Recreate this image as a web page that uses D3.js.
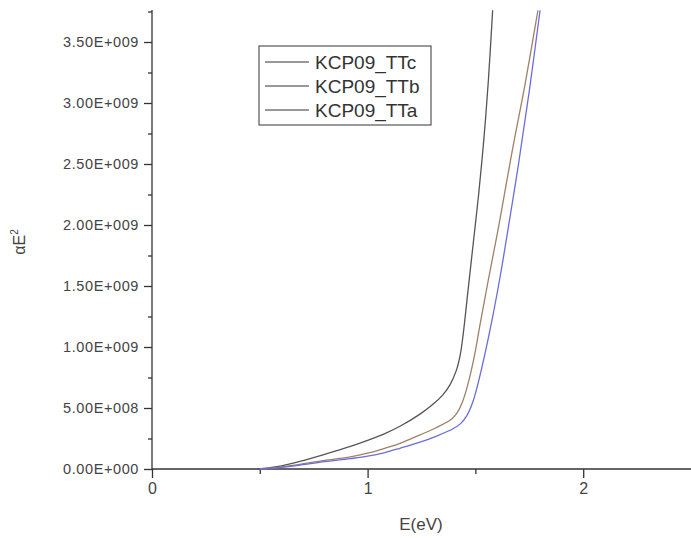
<!DOCTYPE html>
<html>
<head>
<meta charset="utf-8">
<script src="https://cdn.jsdelivr.net/npm/d3@7"></script>
<style>
  body { margin: 0; background: #fff; }
  svg { display: block; font-family: "Liberation Sans", Arial, sans-serif; }
</style>
</head>
<body>
<svg width="691" height="538"></svg>
<script>
const width = 691;
const height = 538;

// series: photon energy (eV) and alpha*E^2 (units of 1e9)
const eTTc = [0.49, 0.58, 0.69, 0.8, 0.92, 1.0, 1.08, 1.15, 1.243, 1.303, 1.35, 1.382, 1.41, 1.429, 1.443, 1.465, 1.49, 1.515, 1.54, 1.56, 1.58];
const vTTc = [0, 0.02, 0.065, 0.12, 0.185, 0.235, 0.29, 0.35, 0.45, 0.53, 0.61, 0.69, 0.8, 0.93, 1.1, 1.45, 1.85, 2.25, 2.72, 3.18, 3.76];

const eTTb = [0.5, 0.58, 0.69, 0.8, 0.92, 1.0, 1.08, 1.15, 1.243, 1.32, 1.39, 1.415, 1.44, 1.466, 1.498, 1.521, 1.56, 1.605, 1.67, 1.73, 1.79];
const vTTb = [0, 0.012, 0.04, 0.07, 0.1, 0.13, 0.17, 0.21, 0.28, 0.34, 0.41, 0.46, 0.55, 0.7, 0.95, 1.18, 1.55, 1.96, 2.6, 3.15, 3.76];

const eTTa = [0.5, 0.58, 0.69, 0.8, 0.92, 1.0, 1.08, 1.15, 1.243, 1.32, 1.396, 1.43, 1.461, 1.49, 1.512, 1.545, 1.577, 1.615, 1.65, 1.70, 1.75, 1.80];
const vTTa = [0, 0.01, 0.033, 0.06, 0.085, 0.105, 0.135, 0.17, 0.22, 0.27, 0.33, 0.37, 0.44, 0.56, 0.7, 0.95, 1.22, 1.58, 1.95, 2.5, 3.1, 3.76];

const seriesNames = ["KCP09_TTc", "KCP09_TTb", "KCP09_TTa"];
const xTickValues = [0, 1, 2];
const xMinorValues = [0.5, 1.5];
const yTickValues = [0, 0.5, 1.0, 1.5, 2.0, 2.5, 3.0, 3.5];
const yTickLabels = ["0.00E+000", "5.00E+008", "1.00E+009", "1.50E+009", "2.00E+009", "2.50E+009", "3.00E+009", "3.50E+009"];
const yMinorValues = [0.25, 0.75, 1.25, 1.75, 2.25, 2.75, 3.25, 3.75];

const colors = ["#555555", "#a08068", "#6c6cd8"];

const svg = d3.select("svg");

const x = d3.scaleLinear().domain([0, 2.5]).range([152, 691]);
const y = d3.scaleLinear().domain([0, 3.5]).range([469, 42]);
const yTop = 10;

// axes
const xAxis = svg.append("g")
    .attr("transform", `translate(0, ${y(0)})`)
    .call(d3.axisBottom(x).tickValues(xTickValues).tickSize(9).tickPadding(5).tickFormat(d3.format("d")));
xAxis.select(".domain").attr("d", `M${x(0)},0H${width}`);

svg.append("g")
    .attr("transform", `translate(0, ${y(0)})`)
    .call(d3.axisBottom(x).tickValues(xMinorValues).tickSize(5).tickFormat(""))
    .call((g) => g.select(".domain").remove());

const yAxis = svg.append("g")
    .attr("transform", `translate(${x(0)}, 0)`)
    .call(d3.axisLeft(y).tickValues(yTickValues).tickSize(8).tickPadding(5)
        .tickFormat((d, i) => yTickLabels[i]));
yAxis.select(".domain").attr("d", `M0,${y(0)}V${yTop}`);

svg.append("g")
    .attr("transform", `translate(${x(0)}, 0)`)
    .call(d3.axisLeft(y).tickValues(yMinorValues.filter((v) => y(v) > yTop)).tickSize(4).tickFormat(""))
    .call((g) => g.select(".domain").remove());

svg.selectAll(".domain, .tick line").attr("stroke", "#333").attr("stroke-width", 1.3);
xAxis.selectAll("text").attr("font-size", 16).attr("fill", "#444");
yAxis.selectAll("text").attr("font-size", 14.5).attr("fill", "#444").attr("letter-spacing", "0.6px");

// axis titles
svg.append("text")
    .attr("x", 421)
    .attr("y", 530)
    .attr("text-anchor", "middle")
    .attr("font-size", 17)
    .attr("fill", "#444")
    .text("E(eV)");

const yTitle = svg.append("text")
    .attr("transform", "translate(25, 242) rotate(-90)")
    .attr("text-anchor", "middle")
    .attr("font-size", 16)
    .attr("fill", "#444");
yTitle.append("tspan").text("αE");
yTitle.append("tspan").attr("font-size", 10).attr("dy", -7).text("2");

// curves
const line = d3.line()
    .x((d) => x(d[0]))
    .y((d) => y(d[1]))
    .curve(d3.curveCatmullRom.alpha(0.5));

const series = [
    d3.zip(eTTc, vTTc),
    d3.zip(eTTb, vTTb),
    d3.zip(eTTa, vTTa),
];

svg.append("g")
    .selectAll("path")
    .data(series)
    .join("path")
    .attr("fill", "none")
    .attr("stroke", (_d, i) => colors[i])
    .attr("stroke-width", 1.3)
    .attr("d", line);

// legend
const legend = svg.append("g").attr("transform", "translate(259, 46)");
legend.append("rect")
    .attr("width", 172)
    .attr("height", 79)
    .attr("fill", "#fff")
    .attr("stroke", "#555")
    .attr("stroke-width", 1.2);

const rows = legend.selectAll(".row")
    .data(seriesNames)
    .join("g")
    .attr("class", "row")
    .attr("transform", (_d, i) => `translate(0, ${16 + i * 24})`);

rows.append("line")
    .attr("x1", 6)
    .attr("x2", 50)
    .attr("stroke", "#777")
    .attr("stroke-width", 1.3);

rows.append("text")
    .attr("x", 56)
    .attr("dy", "0.36em")
    .attr("font-size", 19)
    .attr("fill", "#333")
    .text((d) => d);
</script>
</body>
</html>
